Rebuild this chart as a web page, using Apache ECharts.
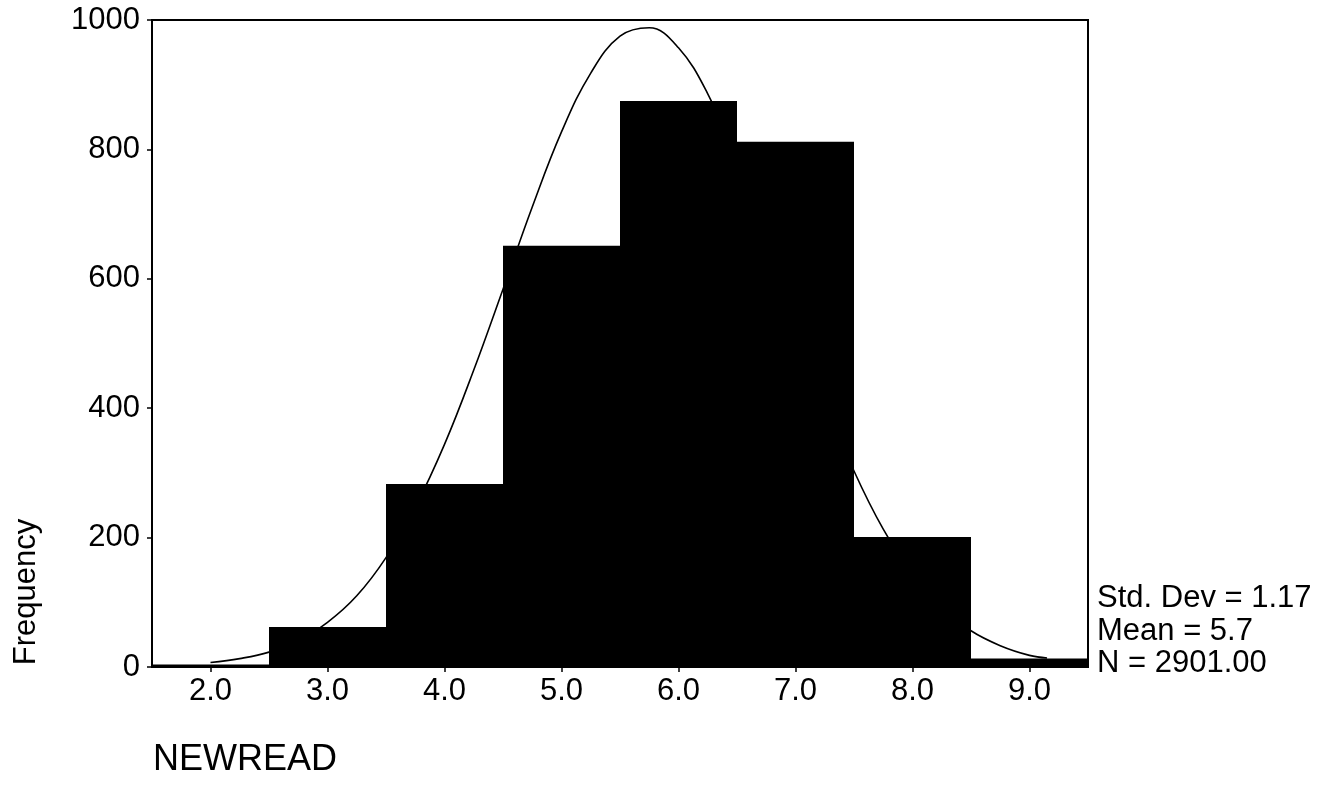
<!DOCTYPE html>
<html>
<head>
<meta charset="utf-8">
<script src="https://cdn.jsdelivr.net/npm/echarts@6/dist/echarts.min.js"></script>
<style>
  html, body { margin: 0; padding: 0; background: #fff; }
  #chart { width: 1328px; height: 785px; }
</style>
</head>
<body>
<div id="chart"></div>
<script>
// histogram bins (centre of each bin, width 1.0) and their counts
const binCenters = [2, 3, 4, 5, 6, 7, 8, 9]
const binCounts = [4, 62, 283, 651, 875, 812, 201, 13]

// fitted normal curve
const curveX = [2.0, 2.25, 2.5, 2.75, 3.0, 3.25, 3.5, 3.75, 4.0, 4.25, 4.5, 4.75, 5.0, 5.25, 5.5, 5.75,
  6.0, 6.25, 6.5, 6.75, 7.0, 7.25, 7.5, 7.75, 8.0, 8.25, 8.5, 8.75, 9.0, 9.15]
const curveY = [7, 13, 23, 41, 69, 110, 169, 247, 344, 459, 584, 711, 827, 918, 975, 988,
  957, 886, 783, 661, 533, 411, 303, 213, 143, 92, 56, 33, 18, 14]

const xTicks = [2, 3, 4, 5, 6, 7, 8, 9]
const yTicks = [0, 200, 400, 600, 800, 1000]

const statLines = ['Std. Dev = 1.17', 'Mean = 5.7', 'N = 2901.00']

const FONT = '"Liberation Sans", Arial, sans-serif'

const chart = echarts.init(document.getElementById('chart'))

chart.setOption({
  animation: false,
  backgroundColor: '#fff',
  grid: {
    left: 152, right: 240, top: 20, bottom: 118,
    show: true, borderColor: '#000', borderWidth: 2,
    outerBoundsMode: 'none',
  },
  xAxis: {
    type: 'value',
    min: 1.5,
    max: 9.5,
    axisLine: { show: true, onZero: false, lineStyle: { color: '#000', width: 2 } },
    axisTick: { show: true, customValues: xTicks, length: 5, lineStyle: { color: '#000', width: 1.5 } },
    axisLabel: {
      customValues: xTicks,
      formatter: (v) => v.toFixed(1),
      color: '#000', fontFamily: FONT, fontSize: 31, margin: 9,
    },
    splitLine: { show: false },
  },
  yAxis: {
    type: 'value',
    min: yTicks[0],
    max: yTicks[yTicks.length - 1],
    interval: 200,
    axisLine: { show: true, lineStyle: { color: '#000', width: 2 } },
    axisTick: { show: true, length: 5, lineStyle: { color: '#000', width: 1.5 } },
    axisLabel: { formatter: (v) => String(v), color: '#000', fontFamily: FONT, fontSize: 31, margin: 12 },
    splitLine: { show: false },
  },
  graphic: [
    {
      type: 'text', x: 26, y: 592, rotation: Math.PI / 2,
      style: { text: 'Frequency', font: '31px ' + FONT, fill: '#000', align: 'center', verticalAlign: 'middle' },
    },
    {
      type: 'text', x: 153, y: 760,
      style: { text: 'NEWREAD', font: '36px ' + FONT, fill: '#000', align: 'left', verticalAlign: 'middle' },
    },
    ...statLines.map((t, i) => ({
      type: 'text', x: 1097, y: [598, 631, 663][i],
      style: { text: t, font: '31px ' + FONT, fill: '#000', align: 'left', verticalAlign: 'middle' },
    })),
  ],
  series: [
    {
      type: 'line',
      data: curveX.map((x, i) => [x, curveY[i]]),
      smooth: 0.4,
      showSymbol: false,
      lineStyle: { color: '#000', width: 1.6 },
      z: 2,
    },
    {
      type: 'custom',
      data: binCenters.map((x, i) => [x, binCounts[i]]),
      renderItem: (params, api) => {
        const x = api.value(0)
        const y = api.value(1)
        const p0 = api.coord([x - 0.5, y])
        const p1 = api.coord([x + 0.5, 0])
        return {
          type: 'rect',
          shape: { x: p0[0], y: p0[1], width: p1[0] - p0[0], height: p1[1] - p0[1] },
          style: { fill: '#000' },
        }
      },
      z: 3,
    },
  ],
})
</script>
</body>
</html>
